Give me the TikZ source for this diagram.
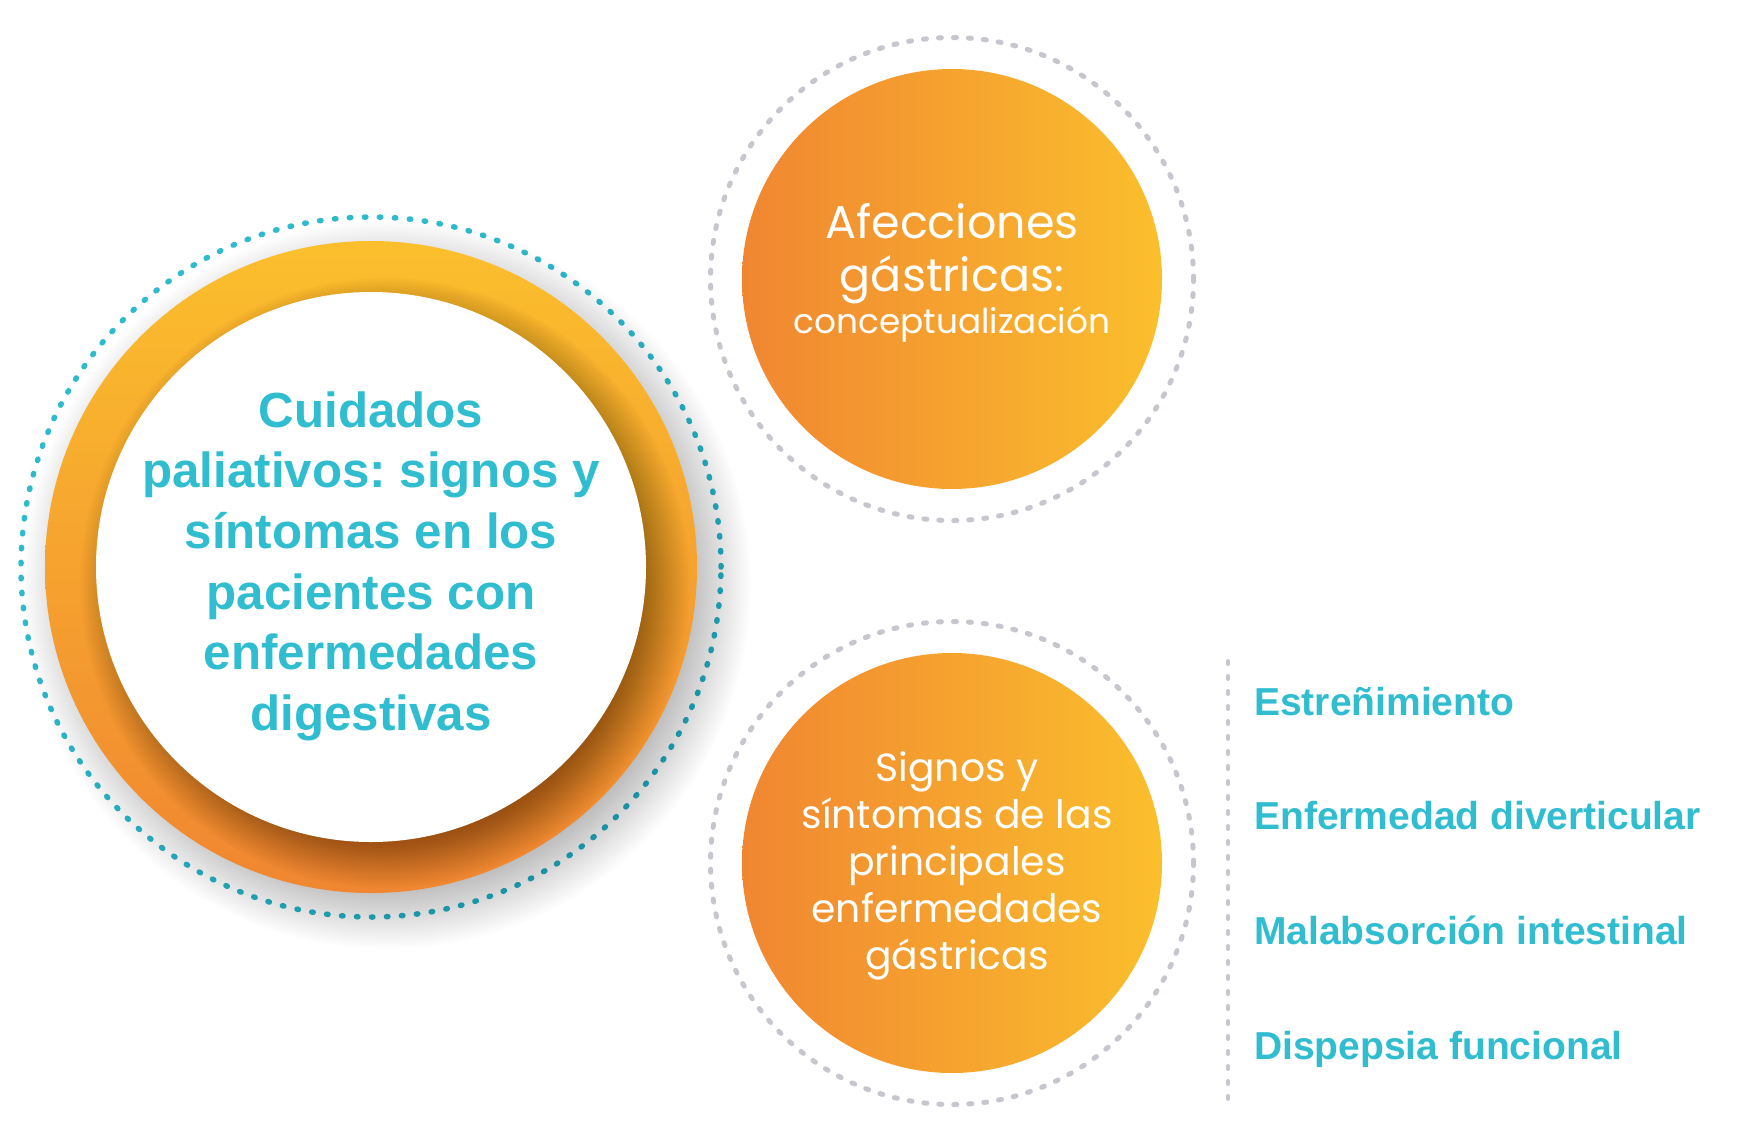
\documentclass[tikz,border=0pt]{standalone}
\usepackage{fontspec}
\setmainfont{Liberation Sans}
\newfontfamily\popfont{Poppins}
\frenchspacing
\definecolor{oyel}{HTML}{FBBF2D}
\definecolor{oorg}{HTML}{F08631}
\definecolor{tealtx}{HTML}{31BDD0}
\definecolor{tealdot}{HTML}{2FBBCD}
\definecolor{greydot}{HTML}{C6C6CE}
\begin{document}
\begin{tikzpicture}[x=1pt,y=-1pt,
  tealring/.style={circle,inner sep=0pt,minimum size=700pt,draw=tealdot,line width=5.5pt,line cap=round,dash pattern=on 1.5pt off 13.5pt},
  greyring/.style={circle,inner sep=0pt,minimum size=483pt,draw=greydot,line width=5pt,line cap=round,dash pattern=on 3pt off 12pt},
  bigring/.style={circle,inner sep=0pt,minimum size=652pt,top color=oyel,bottom color=oorg},
  whitedisc/.style={circle,inner sep=0pt,minimum size=550pt,fill=white},
  odisc/.style={circle,inner sep=0pt,minimum size=420pt,left color=oorg,right color=oyel},
  shadowlayer/.style={fill=black,fill opacity=#1},
  lefttxt/.style={anchor=base,inner sep=0pt,text=tealtx,font=\fontsize{49.3}{60}\selectfont\bfseries},
  listtxt/.style={anchor=base west,inner sep=0pt,text=tealtx,font=\fontsize{39}{46}\selectfont\bfseries},
  bigpop/.style={anchor=base,inner sep=0pt,text=white,font=\popfont\fontsize{46}{52}\selectfont},
  midpop/.style={anchor=base,inner sep=0pt,text=white,font=\popfont\fontsize{34.3}{40}\selectfont},
  smallpop/.style={anchor=base,inner sep=0pt,text=white,font=\popfont\fontsize{39.3}{45}\selectfont},
  greydash/.style={draw=greydot,line width=4pt,line cap=round,dash pattern=on 3pt off 12pt}
]
\useasboundingbox (0,0) rectangle (1752,1134);
\fill[white] (0,0) rectangle (1752,1134);

% left main circle
\node[tealring] (lt) at (371,567) {};
% soft shadow of the ring (lower right)
\foreach \i in {0,...,39}{%
  \pgfmathsetmacro\rr{364-1.9*\i}
  \fill[shadowlayer=0.009] (387,585) circle[radius=\rr pt];
}
\node[bigring] (lr) at (371,567) {};
% soft shadow of the white disc on the ring
\foreach \i in {0,...,39}{%
  \pgfmathsetmacro\rr{305-1.6*\i}
  \fill[shadowlayer=0.011] (385,583) circle[radius=\rr pt];
}
\node[whitedisc] (lw) at (371,567) {};
\node[lefttxt] (l1) at (371,427) {Cuidados};
\node[lefttxt] (l2) at (371,487.7) {paliativos: signos y};
\node[lefttxt] (l3) at (371,548.4) {síntomas en los};
\node[lefttxt] (l4) at (371,609.1) {pacientes con};
\node[lefttxt] (l5) at (371,669.8) {enfermedades};
\node[lefttxt] (l6) at (371,730.5) {digestivas};

% top right circle
\node[greyring] (tg) at (952,279) {};
\node[odisc] (tc) at (952,279) {};
\node[bigpop] (t1) at (952,238.3) {Afecciones};
\node[bigpop] (t2) at (952,291.7) {gástricas:};
\node[midpop] (t3) at (952,333.3) {conceptualización};

% bottom right circle
\node[greyring] (bg) at (952,863) {};
\node[odisc] (bc) at (952,863) {};
\node[smallpop] (b1) at (957,781) {Signos y};
\node[smallpop] (b2) at (957,828) {síntomas de las};
\node[smallpop] (b3) at (957,875) {principales};
\node[smallpop] (b4) at (957,922) {enfermedades};
\node[smallpop] (b5) at (957,969) {gástricas};

% list
\coordinate (vtop) at (1228,661);
\coordinate (vbot) at (1228,1103);
\draw[greydash] (vtop) -- (vbot);
\node[listtxt] (r1) at (1254,715) {Estreñimiento};
\node[listtxt] (r2) at (1254,829) {Enfermedad diverticular};
\node[listtxt] (r3) at (1254,944) {Malabsorción intestinal};
\node[listtxt] (r4) at (1254,1059) {Dispepsia funcional};
\end{tikzpicture}
\end{document}
